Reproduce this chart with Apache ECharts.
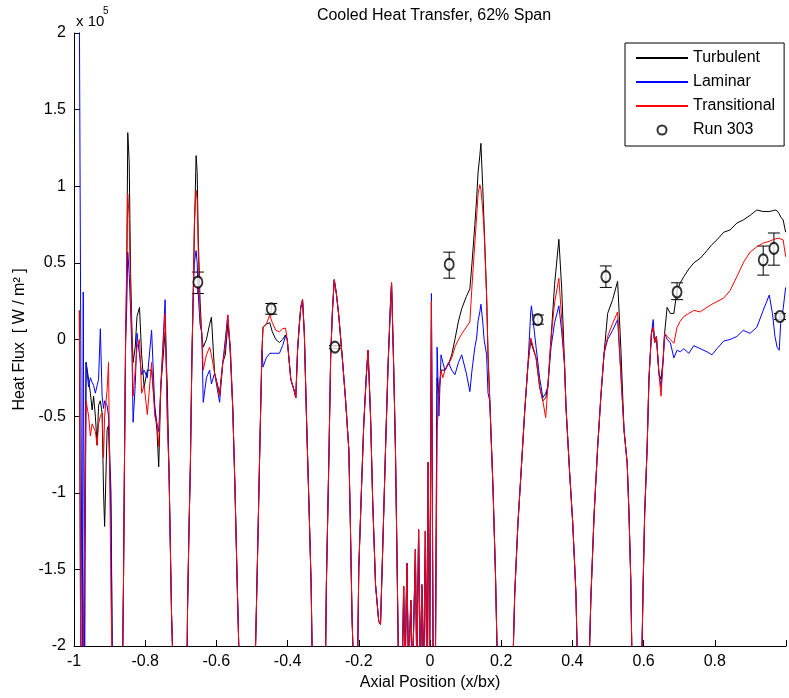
<!DOCTYPE html>
<html>
<head>
<meta charset="utf-8">
<script src="https://cdn.jsdelivr.net/npm/echarts@6/dist/echarts.min.js"></script>
<style>
  html, body { margin: 0; padding: 0; background: #fff; }
  #chart { width: 789px; height: 698px; }
</style>
</head>
<body>
<div id="chart"></div>
<script>
// heat flux values are in units of 1e5 W/m^2 (axis shows "x 10^5")
// values below -2 / above 2 run off the plot and get clipped
const axial = [
  -0.985, -0.981, -0.977, -0.974, -0.970, -0.966, -0.959, -0.954, -0.949, -0.945,
  -0.940, -0.935, -0.931, -0.926, -0.921, -0.917, -0.914, -0.907, -0.903, -0.896,
  -0.892, -0.864, -0.861, -0.858, -0.855, -0.852, -0.849, -0.845, -0.841, -0.837,
  -0.834, -0.828, -0.823, -0.816, -0.810, -0.803, -0.794, -0.782, -0.773, -0.767,
  -0.762, -0.756, -0.744, -0.738, -0.733, -0.726, -0.721,
  -0.683, -0.681, -0.677, -0.673, -0.669, -0.665, -0.662, -0.657, -0.654, -0.651,
  -0.646, -0.641, -0.637, -0.628, -0.619, -0.614, -0.605, -0.591, -0.582, -0.575,
  -0.568, -0.561, -0.554, -0.548, -0.542, -0.535,
  -0.492, -0.489, -0.484, -0.479, -0.472, -0.469, -0.460, -0.450, -0.443, -0.433,
  -0.423, -0.414, -0.406, -0.401, -0.391, -0.382, -0.377, -0.372, -0.367, -0.363,
  -0.358, -0.353, -0.347, -0.339, -0.334, -0.330,
  -0.294, -0.291, -0.284, -0.279, -0.274, -0.269, -0.263, -0.256, -0.246, -0.237,
  -0.228, -0.224, -0.219, -0.214,
  -0.204, -0.200, -0.192, -0.186, -0.179, -0.174, -0.167, -0.161, -0.153, -0.144,
  -0.139, -0.133, -0.125, -0.118, -0.111, -0.108, -0.102, -0.097, -0.093, -0.088,
  -0.078, -0.074, -0.070, -0.065, -0.060, -0.054, -0.049, -0.041, -0.037, -0.032,
  -0.027, -0.023, -0.018, -0.013, -0.009, -0.005, -0.001, 0.004, 0.009, 0.015,
  0.020, 0.025, 0.031, 0.036, 0.042, 0.052, 0.061, 0.070, 0.080, 0.089,
  0.102, 0.112, 0.118, 0.126, 0.131, 0.135, 0.140, 0.143, 0.148, 0.152,
  0.159, 0.163, 0.168, 0.177, 0.184, 0.190,
  0.232, 0.238, 0.247, 0.256, 0.266, 0.275, 0.283, 0.285, 0.298, 0.308,
  0.317, 0.325, 0.331, 0.340, 0.350, 0.362, 0.370, 0.378, 0.382, 0.392,
  0.401, 0.410, 0.415,
  0.446, 0.452, 0.461, 0.471, 0.480, 0.489, 0.499, 0.513, 0.527, 0.536,
  0.545, 0.554, 0.559, 0.564, 0.568,
  0.594, 0.599, 0.603, 0.610, 0.615, 0.622, 0.627, 0.631, 0.636, 0.643,
  0.649, 0.655, 0.659, 0.666, 0.675, 0.685, 0.694, 0.703, 0.713, 0.727,
  0.741, 0.759, 0.778, 0.792, 0.806, 0.825, 0.843, 0.862, 0.880, 0.899,
  0.918, 0.936, 0.953, 0.962, 0.969, 0.975, 0.981, 0.985, 0.992, 0.999
];

const turbulent = [
  0.19, -2.2, -2.2, -2.2, -2.2, -0.15, -0.26, -0.35, -0.46, -0.37,
  -0.5, -0.69, -0.43, -0.4, -0.48, -1.0, -1.22, -0.59, -0.56, -1.16,
  -2.2, -2.2, -1.6, -0.74, 0.0, 0.4, 1.35, 1.16, 0.43, 0.04,
  -0.15, -0.05, 0.15, 0.21, -0.1, -0.31, -0.2, -0.2, -0.45, -0.59,
  -0.83, -0.3, 0.05, -0.3, -0.87, -1.79, -2.2,
  -2.2, -1.75, -1.24, -0.81, -0.15, 0.3, 0.69, 1.2, 1.09, 0.67,
  0.26, 0.02, -0.05, 0.0, 0.1, 0.145, -0.22, -0.35, -0.15, -0.1,
  0.1, -0.05, -0.45, -0.95, -1.55, -2.2,
  -2.2, -1.9, -1.37, -0.81, -0.07, 0.08, 0.1, 0.11, 0.05, 0.0,
  -0.02, 0.0, 0.03, 0.0, -0.26, -0.33, -0.38, -0.07, 0.1, 0.21,
  0.26, 0.04, -0.5, -1.16, -1.59, -2.2,
  -2.2, -1.59, -0.77, -0.11, 0.19, 0.39, 0.3, 0.15, -0.13, -0.4,
  -0.72, -1.16, -1.81, -2.2,
  -2.2, -1.49, -0.94, -0.55, -0.24, -0.07, -0.5, -1.05, -1.6, -1.84,
  -1.86, -1.38, -0.72, -0.18, 0.23, 0.37, -0.18, -0.72, -1.37, -2.2,
  -2.2, -1.61, -2.2, -1.46, -2.2, -1.7, -2.2, -1.37, -2.2, -1.24,
  -2.2, -1.6, -2.2, -1.25, -2.2, -0.8, -2.2, 0.25, -2.2, -2.2,
  -0.25, -0.35, -0.2, -0.2, -0.2, -0.16, -0.1, 0.0, 0.12, 0.2,
  0.28, 0.33, 0.5, 0.75, 0.92, 1.09, 1.2, 1.28, 1.0, 0.75,
  0.29, -0.1, -0.4, -0.97, -1.54, -2.2,
  -2.2, -1.66, -1.2, -0.86, -0.47, -0.17, 0.0, -0.03, -0.12, -0.31,
  -0.4, -0.38, -0.31, 0.01, 0.36, 0.654, 0.33, -0.17, -0.44, -0.86,
  -1.2, -1.66, -2.2,
  -2.2, -1.68, -1.14, -0.7, -0.37, -0.09, 0.17, 0.26, 0.38, -0.05,
  -0.59, -0.81, -1.14, -1.57, -2.2,
  -2.2, -1.57, -1.14, -0.7, -0.26, 0.04, 0.08, -0.02, 0.02, -0.22,
  -0.26, -0.13, 0.04, 0.21, 0.17, 0.17, 0.32, 0.37, 0.41, 0.46,
  0.5, 0.53, 0.58, 0.62, 0.65, 0.7, 0.715, 0.76, 0.78, 0.81,
  0.845, 0.835, 0.835, 0.84, 0.845, 0.84, 0.82, 0.8, 0.78, 0.7
];

const laminar = [
  2.2, 2.2, -2.2, 0.31, -2.2, -0.15, -0.31, -0.25, -0.28, -0.3,
  -0.35, -0.3, -0.26, 0.07, -0.37, -0.45, -0.4, -0.43, -0.5, -1.0,
  -2.2, -2.2, -1.6, -0.74, 0.0, 0.2, 0.57, 0.43, 0.19, -0.1,
  -0.54, -0.3, 0.04, -0.1, -0.23, -0.2, -0.25, 0.06, -0.44, -0.55,
  -0.6, -0.3, 0.26, -0.5, -0.87, -1.79, -2.2,
  -2.2, -1.75, -1.24, -0.81, -0.15, 0.3, 0.5, 0.58, 0.5, 0.3,
  0.1, 0.04, -0.41, -0.25, -0.2, -0.29, -0.22, -0.41, -0.15, 0.0,
  0.16, -0.1, -0.45, -0.95, -1.55, -2.2,
  -2.2, -1.9, -1.37, -0.81, -0.07, -0.18, -0.12, -0.09, -0.09, -0.09,
  -0.09, -0.04, 0.02, 0.0, -0.26, -0.33, -0.38, -0.07, 0.1, 0.21,
  0.26, 0.04, -0.5, -1.16, -1.59, -2.2,
  -2.2, -1.59, -0.77, -0.11, 0.19, 0.39, 0.3, 0.15, -0.13, -0.4,
  -0.72, -1.16, -1.81, -2.2,
  -2.2, -1.49, -0.94, -0.55, -0.24, -0.07, -0.5, -1.05, -1.6, -1.84,
  -1.86, -1.38, -0.72, -0.18, 0.23, 0.37, -0.18, -0.72, -1.37, -2.2,
  -2.2, -1.61, -2.2, -1.46, -2.2, -1.7, -2.2, -1.37, -2.2, -1.24,
  -2.2, -1.6, -2.2, -1.25, -2.2, -0.8, -2.2, 0.3, -2.2, -2.2,
  -0.05, -0.5, -0.1, -0.15, -0.2, -0.15, -0.2, -0.23, -0.15, -0.1,
  -0.22, -0.34, -0.2, -0.05, 0.01, 0.12, 0.18, 0.23, 0.12, 0.0,
  -0.1, -0.35, -0.4, -0.97, -1.54, -2.2,
  -2.2, -1.66, -1.2, -0.86, -0.47, -0.17, 0.18, 0.22, -0.05, -0.25,
  -0.38, -0.35, -0.31, -0.05, 0.11, 0.22, 0.05, -0.17, -0.44, -0.86,
  -1.2, -1.66, -2.2,
  -2.2, -1.68, -1.14, -0.7, -0.37, -0.09, 0.0, 0.06, 0.13, -0.22,
  -0.59, -0.81, -1.14, -1.57, -2.2,
  -2.2, -1.57, -1.14, -0.7, -0.26, 0.04, 0.13, -0.02, 0.02, -0.22,
  -0.31, -0.13, 0.04, 0.0, -0.02, -0.12, -0.07, -0.08, -0.06, -0.09,
  -0.04, -0.06, -0.08, -0.1, -0.06, -0.01, 0.0, 0.02, 0.06, 0.04,
  0.08, 0.19, 0.29, 0.17, 0.02, -0.05, -0.07, 0.105, 0.2, 0.34
];

const transitional = [
  0.19, -2.2, -2.2, -2.2, -1.3, -0.4, -0.5, -0.63, -0.55, -0.55,
  -0.6, -0.69, -0.55, -0.5, -0.48, -0.77, -0.5, -0.33, -0.15, -1.7,
  -2.2, -2.2, -1.6, -0.74, 0.0, 0.5, 0.95, 0.79, 0.3, 0.0,
  -0.37, -0.2, -0.05, 0.0, -0.35, -0.3, -0.49, -0.15, -0.5, -0.55,
  -0.7, -0.3, 0.17, -0.5, -0.87, -1.79, -2.2,
  -2.2, -1.75, -1.24, -0.81, -0.15, 0.3, 0.75, 0.975, 0.91, 0.58,
  0.16, 0.04, -0.2, -0.1, -0.05, -0.1, -0.22, -0.37, -0.15, -0.05,
  0.16, -0.05, -0.45, -0.95, -1.55, -2.2,
  -2.2, -1.9, -1.37, -0.81, -0.07, 0.08, 0.1, 0.16, 0.11, 0.06,
  0.05, 0.07, 0.075, 0.0, -0.26, -0.33, -0.38, -0.07, 0.1, 0.21,
  0.26, 0.04, -0.5, -1.16, -1.59, -2.2,
  -2.2, -1.59, -0.77, -0.11, 0.19, 0.39, 0.3, 0.15, -0.13, -0.4,
  -0.72, -1.16, -1.81, -2.2,
  -2.2, -1.49, -0.94, -0.55, -0.24, -0.07, -0.5, -1.05, -1.6, -1.84,
  -1.86, -1.38, -0.72, -0.18, 0.23, 0.37, -0.18, -0.72, -1.37, -2.2,
  -2.2, -1.61, -2.2, -1.46, -2.2, -1.7, -2.2, -1.37, -2.2, -1.24,
  -2.2, -1.6, -2.2, -1.25, -2.2, -0.8, -2.2, 0.25, -2.2, -2.2,
  -0.6, -0.35, -0.2, -0.25, -0.2, -0.16, -0.12, -0.05, 0.0, 0.036,
  0.08, 0.115, 0.35, 0.63, 0.8, 0.95, 1.01, 0.98, 0.85, 0.7,
  0.29, -0.1, -0.4, -0.97, -1.54, -2.2,
  -2.2, -1.66, -1.2, -0.86, -0.47, -0.17, 0.01, 0.0, -0.12, -0.31,
  -0.4, -0.51, -0.31, 0.01, 0.24, 0.4, 0.13, -0.17, -0.44, -0.86,
  -1.2, -1.66, -2.2,
  -2.2, -1.68, -1.14, -0.7, -0.37, -0.09, 0.02, 0.105, 0.18, -0.22,
  -0.59, -0.81, -1.14, -1.57, -2.2,
  -2.2, -1.57, -1.14, -0.7, -0.26, 0.04, 0.08, -0.02, 0.02, -0.22,
  -0.37, -0.13, 0.04, 0.02, 0.0, -0.025, 0.08, 0.12, 0.15, 0.17,
  0.19, 0.18, 0.21, 0.23, 0.247, 0.27, 0.32, 0.41, 0.5, 0.57,
  0.605, 0.63, 0.64, 0.65, 0.655, 0.66, 0.66, 0.66, 0.65, 0.54
];

// Run 303 measurements with error bars
const runX = [-0.652, -0.446, -0.267, 0.054, 0.303, 0.494, 0.694, 0.936, 0.966, 0.983];
const runY = [0.375, 0.20, -0.05, 0.49, 0.13, 0.41, 0.31, 0.52, 0.595, 0.15];
const runLow = [0.30, 0.165, -0.06, 0.40, 0.10, 0.34, 0.26, 0.42, 0.485, 0.13];
const runHigh = [0.44, 0.235, -0.04, 0.57, 0.16, 0.48, 0.37, 0.61, 0.695, 0.17];

const yTicks = [-2, -1.5, -1, -0.5, 0, 0.5, 1, 1.5, 2];

const FONT = '"Liberation Sans", Arial, Helvetica, sans-serif';

function pairs(ys) {
  return axial.map((x, i) => [x, ys[i]]);
}

let myChart = echarts.init(document.getElementById('chart'));
myChart.setOption({
  animation: false,
  backgroundColor: '#fff',
  textStyle: { fontFamily: FONT, color: '#000' },
  grid: { left: 74, right: 0, top: 33, bottom: 52, containLabel: false },
  graphic: [
    {
      type: 'text', x: 434, y: 8,
      style: { text: 'Cooled Heat Transfer, 62% Span', font: '16px ' + FONT, fill: '#000', align: 'center', textAlign: 'center' }
    },
    {
      type: 'text', x: 76, y: 14,
      style: { text: 'x 10', font: '15px ' + FONT, fill: '#000' }
    },
    {
      type: 'text', x: 103, y: 6,
      style: { text: '5', font: '10px ' + FONT, fill: '#000' }
    }
  ],
  legend: {
    orient: 'vertical',
    left: 625,
    top: 43,
    padding: [7, 9, 8, 10],
    itemWidth: 52,
    itemHeight: 9,
    itemGap: 8,
    borderColor: '#000',
    borderWidth: 1,
    backgroundColor: '#fff',
    textStyle: { fontSize: 16, color: '#000', fontFamily: FONT },
    // line entries: line only, no marker dot
    data: [
      { name: 'Turbulent', itemStyle: { opacity: 0 } },
      { name: 'Laminar', itemStyle: { opacity: 0 } },
      { name: 'Transitional', itemStyle: { opacity: 0 } },
      { name: 'Run 303' }
    ]
  },
  xAxis: {
    type: 'value',
    min: -1,
    max: 1,
    interval: 0.2,
    name: 'Axial Position (x/bx)',
    nameLocation: 'middle',
    nameGap: 27,
    nameTextStyle: { fontSize: 16, color: '#000', fontFamily: FONT },
    axisLine: { onZero: false, lineStyle: { color: '#000', width: 1 } },
    axisTick: { inside: true, length: 6, lineStyle: { color: '#000' } },
    axisLabel: {
      fontSize: 16, color: '#000', margin: 8, fontFamily: FONT,
      formatter: v => (v > 0.99 ? '' : String(v))
    },
    splitLine: { show: false }
  },
  yAxis: {
    type: 'value',
    min: yTicks[0],
    max: yTicks[yTicks.length - 1],
    interval: 0.5,
    name: 'Heat Flux  [ W / m² ]',
    nameLocation: 'middle',
    nameRotate: 90,
    nameGap: 38,
    nameTextStyle: { fontSize: 16, color: '#000', fontFamily: FONT },
    axisLine: { show: true, onZero: false, lineStyle: { color: '#000', width: 1 } },
    axisTick: { show: true, inside: true, length: 6, lineStyle: { color: '#000' } },
    axisLabel: { fontSize: 16, color: '#000', margin: 8, fontFamily: FONT, formatter: v => String(v) },
    splitLine: { show: false }
  },
  series: [
    {
      name: 'Turbulent',
      type: 'line',
      data: pairs(turbulent),
      symbol: 'none',
      clip: true,
      lineStyle: { color: '#000', width: 1 },
      itemStyle: { color: '#000' }
    },
    {
      name: 'Laminar',
      type: 'line',
      data: pairs(laminar),
      symbol: 'none',
      clip: true,
      lineStyle: { color: '#0000ff', width: 1 },
      itemStyle: { color: '#0000ff' }
    },
    {
      name: 'Transitional',
      type: 'line',
      data: pairs(transitional),
      symbol: 'none',
      clip: true,
      lineStyle: { color: '#ff0000', width: 1 },
      itemStyle: { color: '#ff0000' }
    },
    {
      name: 'errorbars',
      type: 'custom',
      data: runX.map((x, i) => [x, runLow[i], runHigh[i]]),
      encode: { x: 0, y: [1, 2] },
      renderItem: function (params, api) {
        const lo = api.coord([api.value(0), api.value(1)]);
        const hi = api.coord([api.value(0), api.value(2)]);
        const w = 6;
        const st = { stroke: '#000', lineWidth: 1 };
        return {
          type: 'group',
          children: [
            { type: 'line', shape: { x1: lo[0], y1: lo[1], x2: hi[0], y2: hi[1] }, style: st },
            { type: 'line', shape: { x1: lo[0] - w, y1: lo[1], x2: lo[0] + w, y2: lo[1] }, style: st },
            { type: 'line', shape: { x1: hi[0] - w, y1: hi[1], x2: hi[0] + w, y2: hi[1] }, style: st }
          ]
        };
      },
      z: 3
    },
    {
      name: 'Run 303',
      type: 'scatter',
      data: runX.map((x, i) => [x, runY[i]]),
      symbol: 'emptyCircle',
      symbolSize: [9, 11],
      itemStyle: { color: '#000', borderColor: '#000', borderWidth: 1 },
      z: 4
    }
  ]
})
</script>
</body>
</html>
